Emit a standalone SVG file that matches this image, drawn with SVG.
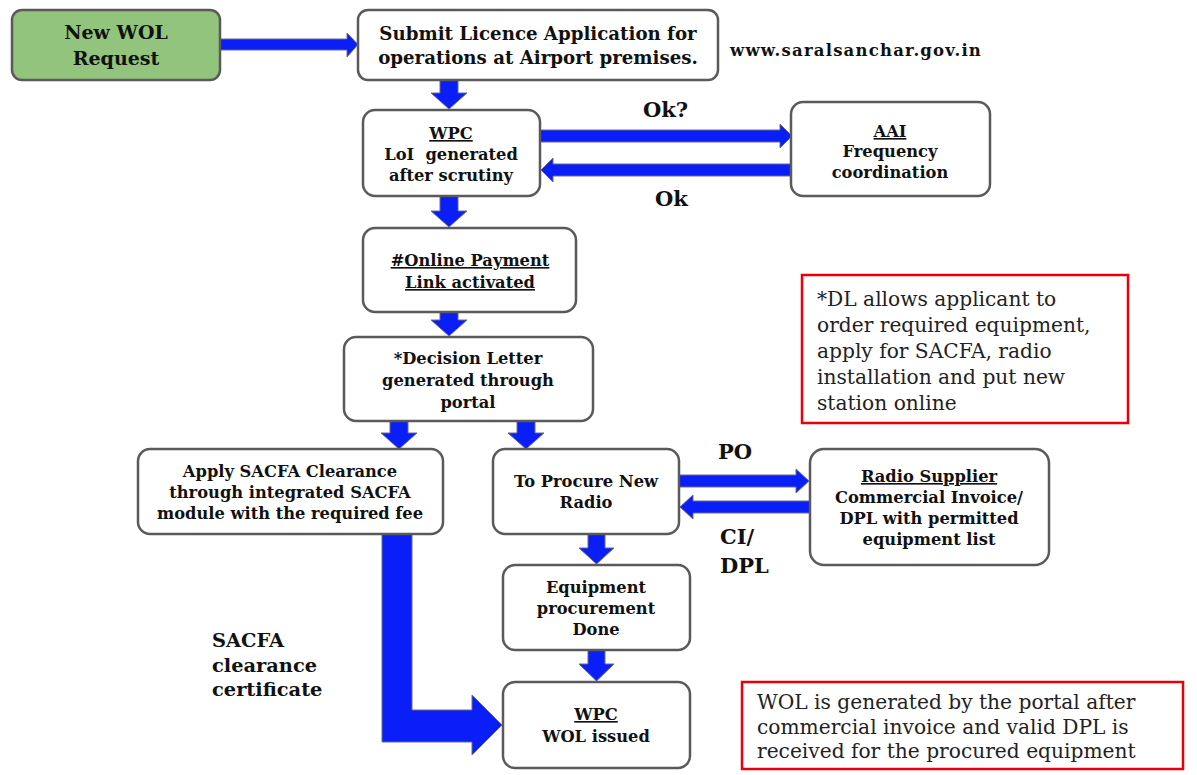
<svg xmlns="http://www.w3.org/2000/svg" width="1197" height="775" viewBox="0 0 1197 775">
<style>
.box{fill:#fff;stroke:#5a5a5a;stroke-width:2.5}
.green{fill:#93c47d}
.note{fill:#fff;stroke:#e8000b;stroke-width:2.5}
.t{font-family:"DejaVu Serif","Liberation Serif",serif;font-weight:bold;font-size:16.3px;fill:#111;text-anchor:middle}
.big{font-size:19px}
.sub{font-size:18.2px}
.lbl{font-family:"DejaVu Serif","Liberation Serif",serif;font-weight:bold;font-size:21px;fill:#111}
.n{font-family:"DejaVu Serif","Liberation Serif",serif;font-size:20.2px;fill:#222}
.u{text-decoration:underline}
.arr{fill:#0a1ef8;stroke:#6a6a8a;stroke-width:1}
</style>
<rect width="1197" height="775" fill="#fff"/>
<g id="connectors">
<polygon class="arr" points="220,39 347,39 347,33 358,44.5 347,57 347,50 220,50"/>
<polygon class="arr" points="440,80 458,80 458,93 467,93 449,109 431,93 440,93"/>
<polygon class="arr" points="540,130 780,130 780,124 792,136 780,148 780,142 540,142"/>
<polygon class="arr" points="791,164 553,164 553,158 541,170 553,182 553,176 791,176"/>
<polygon class="arr" points="440,196 458,196 458,211 467,211 449,227 431,211 440,211"/>
<polygon class="arr" points="440,312 458,312 458,320 467,320 449,336 431,320 440,320"/>
<polygon class="arr" points="390,421 408,421 408,433 417,433 399,449 381,433 390,433"/>
<polygon class="arr" points="517,421 535,421 535,433 544,433 526,449 508,433 517,433"/>
<polygon class="arr" points="679,475 796,475 796,469 809,481 796,493 796,487 679,487"/>
<polygon class="arr" points="810,501 693,501 693,495 680,507 693,519 693,513 810,513"/>
<polygon class="arr" points="588,534 605,534 605,548 614,548 596.5,564 579,548 588,548"/>
<polygon class="arr" points="588,650 605,650 605,664 614,664 596.5,681 579,664 588,664"/>
<polygon class="arr" points="382,534 412,534 412,710 472,710 472,695 502,725 472,755 472,742 382,742"/>
</g>
<g id="n-new-wol"><rect class="box green" x="12" y="10" width="208" height="70" rx="10"/><text class="t big" x="116" y="39">New WOL</text><text class="t big" x="116" y="65">Request</text></g>
<g id="n-submit"><rect class="box" x="358" y="10" width="360" height="70" rx="10"/><text class="t sub" x="538" y="40">Submit Licence Application for</text><text class="t sub" x="538" y="64">operations at Airport premises.</text></g>
<g id="n-wpc-loi"><rect class="box" x="363" y="110" width="177" height="86" rx="12"/><text class="t u" x="451" y="139">WPC</text><text class="t" x="451" y="160" xml:space="preserve">LoI  generated</text><text class="t" x="451" y="181">after scrutiny</text></g>
<g id="n-aai"><rect class="box" x="791" y="102" width="199" height="94" rx="12"/><text class="t u" x="890" y="137">AAI</text><text class="t" x="890" y="157">Frequency</text><text class="t" x="890" y="178">coordination</text></g>
<g id="n-payment"><rect class="box" x="363" y="228" width="213" height="84" rx="12"/><text class="t u" x="470" y="266">#Online Payment</text><text class="t u" x="470" y="288">Link activated</text></g>
<g id="n-decision"><rect class="box" x="344" y="337" width="249" height="84" rx="12"/><text class="t" x="468" y="364">*Decision Letter</text><text class="t" x="468" y="386">generated through</text><text class="t" x="468" y="408">portal</text></g>
<g id="n-sacfa"><rect class="box" x="138" y="449" width="305" height="85" rx="12"/><text class="t" x="290" y="477">Apply SACFA Clearance</text><text class="t" x="290" y="498">through integrated SACFA</text><text class="t" x="290" y="519">module with the required fee</text></g>
<g id="n-procure"><rect class="box" x="493" y="449" width="186" height="85" rx="12"/><text class="t" x="586" y="487">To Procure New</text><text class="t" x="586" y="508">Radio</text></g>
<g id="n-supplier"><rect class="box" x="810" y="449" width="239" height="116" rx="14"/><text class="t u" x="929" y="482">Radio Supplier</text><text class="t" x="929" y="503">Commercial Invoice/</text><text class="t" x="929" y="524">DPL with permitted</text><text class="t" x="929" y="545">equipment list</text></g>
<g id="n-equipment"><rect class="box" x="503" y="565" width="187" height="85" rx="12"/><text class="t" x="596" y="593">Equipment</text><text class="t" x="596" y="614">procurement</text><text class="t" x="596" y="635">Done</text></g>
<g id="n-wol-issued"><rect class="box" x="503" y="682" width="187" height="86" rx="12"/><text class="t u" x="596" y="720">WPC</text><text class="t" x="596" y="742">WOL issued</text></g>
<g id="note-dl"><rect class="note" x="802" y="275" width="326" height="148"/><text class="n" x="817" y="306">*DL allows applicant to</text><text class="n" x="817" y="332">order required equipment,</text><text class="n" x="817" y="358">apply for SACFA, radio</text><text class="n" x="817" y="384">installation and put new</text><text class="n" x="817" y="410">station online</text></g>
<g id="note-wol"><rect class="note" x="742" y="682" width="441" height="87"/><text class="n" x="757" y="709">WOL is generated by the portal after</text><text class="n" x="757" y="734">commercial invoice and valid DPL is</text><text class="n" x="757" y="758">received for the procured equipment</text></g>
<g id="labels">
<text class="lbl" x="730" y="56" style="font-size:16.5px;letter-spacing:1.2px">www.saralsanchar.gov.in</text>
<text class="lbl" x="643" y="117">Ok?</text>
<text class="lbl" x="655" y="206">Ok</text>
<text class="lbl" x="718" y="459">PO</text>
<text class="lbl" x="720" y="544">CI/</text>
<text class="lbl" x="720" y="573">DPL</text>
<text class="lbl" x="212" y="647" style="font-size:19.4px">SACFA</text>
<text class="lbl" x="212" y="672" style="font-size:19.4px">clearance</text>
<text class="lbl" x="212" y="696" style="font-size:19.4px">certificate</text>
</g>
</svg>
